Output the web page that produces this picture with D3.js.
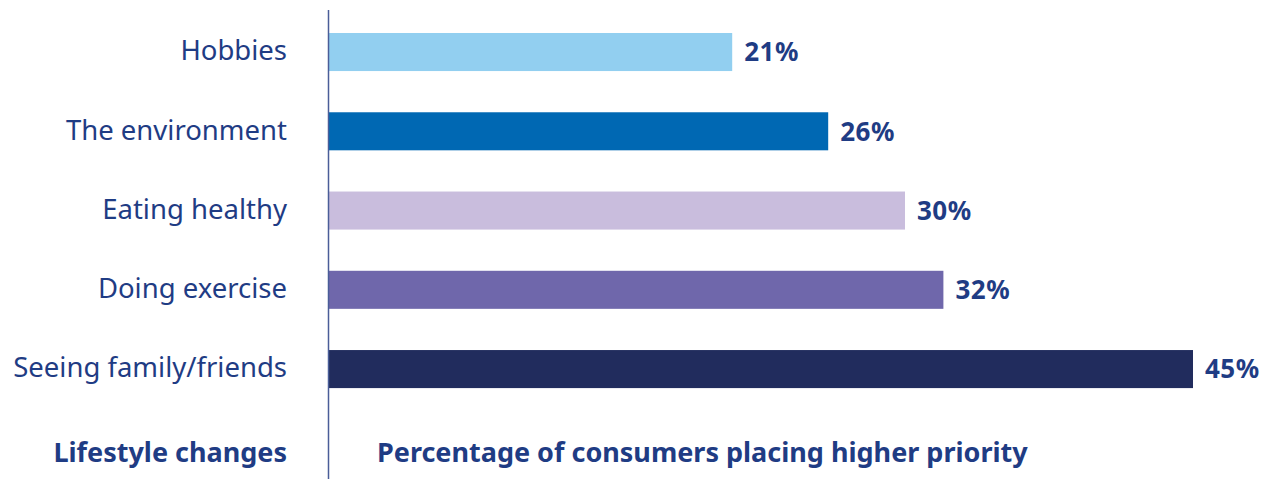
<!DOCTYPE html>
<html lang="en">
<head>
    <meta charset="UTF-8">
    <title>Lifestyle changes</title>
    <script src="https://d3js.org/d3.v7.min.js"></script>
    <style>
        body { margin: 0; background: #fff; }
        text { font-family: "Noto Sans", "Open Sans", sans-serif; }
    </style>
</head>
<body>
    <div id="chart"></div>
    <script>
        // Data
        var categories = ["Hobbies", "The environment", "Eating healthy", "Doing exercise", "Seeing family/friends"];
        var values = [21, 26, 30, 32, 45];
        var colors = ["#92cff0", "#0068b3", "#c9bddd", "#6f67ab", "#212c5d"];
        var yTitle = "Lifestyle changes";
        var xTitle = "Percentage of consumers placing higher priority";

        var width = 1273, height = 479;
        var textColor = "#1f3c84";

        var svg = d3.select("#chart")
                    .append("svg")
                    .attr("width", width)
                    .attr("height", height);

        // Scales
        var x = d3.scaleLinear().domain([0, 45]).range([329, 1193]);
        var y = d3.scaleBand()
                  .domain(categories)
                  .range([12.4, 408.7])
                  .paddingInner(0.52)
                  .paddingOuter(0.26);

        // Bars
        svg.selectAll("rect.bar")
           .data(categories)
           .enter().append("rect")
           .attr("class", "bar")
           .attr("x", x(0))
           .attr("y", function(d) { return y(d); })
           .attr("width", function(d, i) { return x(values[i]) - x(0); })
           .attr("height", y.bandwidth())
           .style("fill", function(d, i) { return colors[i]; });

        // Value labels
        svg.selectAll("text.value")
           .data(categories)
           .enter().append("text")
           .attr("class", "value")
           .attr("x", function(d, i) { return x(values[i]) + 12; })
           .attr("y", function(d) { return y(d) + y.bandwidth() / 2; })
           .attr("dy", "0.36em")
           .style("font-size", "26px")
           .style("font-weight", 700)
           .style("letter-spacing", "0.5px")
           .style("fill", textColor)
           .text(function(d, i) { return values[i] + "%"; });

        // Category axis (labels only, line drawn separately)
        var yAxis = svg.append("g")
           .attr("transform", "translate(287,0)")
           .call(d3.axisLeft(y).tickSize(0).tickPadding(0));
        yAxis.select(".domain").remove();
        yAxis.selectAll("text")
             .attr("dy", "0.3em")
             .style("font-family", "'Noto Sans', 'Open Sans', sans-serif")
             .style("font-size", "27.5px")
             .style("fill", textColor);

        // Vertical separator
        svg.append("line")
           .attr("x1", 328.5).attr("x2", 328.5)
           .attr("y1", 10).attr("y2", 479)
           .style("stroke", "#4a5d98")
           .style("stroke-width", 1.5);

        // Titles
        svg.append("text")
           .attr("x", 287).attr("y", 462)
           .attr("text-anchor", "end")
           .style("font-size", "27px")
           .style("font-weight", 700)
           .style("fill", textColor)
           .text(yTitle);

        svg.append("text")
           .attr("x", 377).attr("y", 462)
           .style("font-size", "27px")
           .style("font-weight", 700)
           .style("fill", textColor)
           .text(xTitle);
    </script>
</body>
</html>
